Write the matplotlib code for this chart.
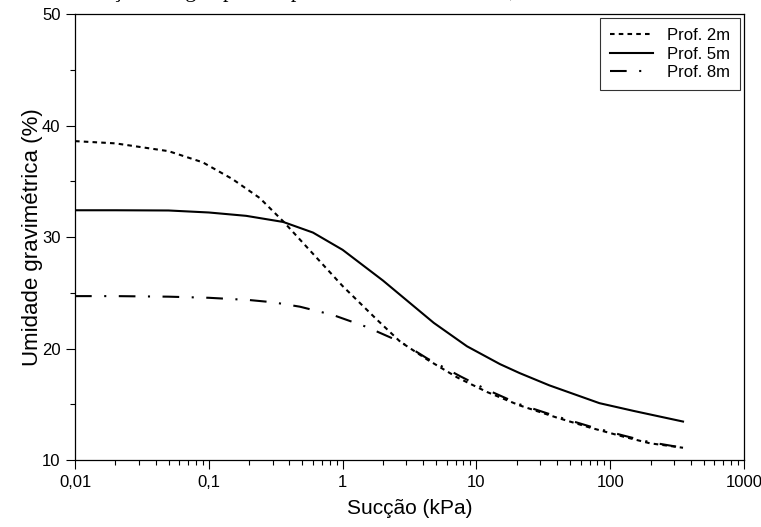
import matplotlib
matplotlib.use("Agg")
import matplotlib.pyplot as plt
import numpy as np
from matplotlib.ticker import FixedLocator, FixedFormatter, LogLocator, NullFormatter, MultipleLocator

plt.rcParams['font.family'] = ['Liberation Sans', 'DejaVu Sans']

# curvas (succao em kPa, umidade em %)
suc_2m = [0.01, 0.02, 0.05, 0.09, 0.15, 0.24, 0.36, 0.6, 1.0, 1.8, 2.7, 4.3, 7.2, 12, 21, 40, 71, 125, 198, 350]
umi_2m = [38.6, 38.4, 37.7, 36.7, 35.2, 33.5, 31.4, 28.5, 25.6, 22.6, 20.6, 19.0, 17.4, 16.1, 14.9, 13.8, 12.9, 12.1, 11.5, 11.1]

suc_5m = [0.01, 0.02, 0.05, 0.1, 0.19, 0.36, 0.6, 1.0, 2.0, 4.8, 8.5, 15, 21, 35, 83, 150, 350]
umi_5m = [32.4, 32.4, 32.38, 32.2, 31.9, 31.35, 30.4, 28.85, 26.1, 22.3, 20.2, 18.6, 17.8, 16.7, 15.1, 14.4, 13.45]

suc_8m = [0.01, 0.02, 0.05, 0.1, 0.2, 0.3, 0.48, 0.85, 1.5, 2.7, 4.3, 7.6, 12, 21, 40, 71, 125, 198, 350]
umi_8m = [24.7, 24.7, 24.65, 24.55, 24.35, 24.15, 23.75, 23.0, 21.95, 20.6, 19.1, 17.5, 16.3, 15.0, 13.9, 13.0, 12.2, 11.6, 11.1]

xticks = [0.01, 0.1, 1, 10, 100, 1000]
xlabels = ['0,01', '0,1', '1', '10', '100', '1000']

fig = plt.figure(figsize=(7.61, 5.27), dpi=100)
ax = fig.add_axes([0.0986, 0.1271, 0.8791, 0.8463])

ax.plot(suc_2m, umi_2m, color='black', lw=1.5, linestyle=(0, (2.2, 2.0)), label='Prof. 2m')
ax.plot(suc_5m, umi_5m, color='black', lw=1.5, linestyle='-', label='Prof. 5m')
ax.plot(suc_8m, umi_8m, color='black', lw=1.5, linestyle=(0, (8, 6, 1, 6)), label='Prof. 8m')

ax.set_xscale('log')
ax.set_xlim(0.01, 1000)
ax.set_ylim(10, 50)
ax.xaxis.set_major_locator(FixedLocator(xticks))
ax.xaxis.set_major_formatter(FixedFormatter(xlabels))
ax.xaxis.set_minor_locator(LogLocator(base=10, subs=np.arange(2, 10)))
ax.xaxis.set_minor_formatter(NullFormatter())
ax.yaxis.set_major_locator(MultipleLocator(10))
ax.yaxis.set_minor_locator(MultipleLocator(5))

ax.tick_params(which='major', direction='out', length=6.5, width=0.8, labelsize=12, pad=4)
ax.tick_params(which='minor', direction='out', length=3.6, width=0.8)
for s in ax.spines.values():
    s.set_linewidth(0.9)

ax.set_xlabel('Sucção (kPa)', fontsize=15, labelpad=7)
ax.set_ylabel('Umidade gravimétrica (%)', fontsize=16, labelpad=-1)

leg = ax.legend(loc='upper right', fontsize=12, frameon=True, fancybox=False,
                edgecolor='black', handlelength=2.6, handletextpad=0.8,
                borderpad=0.6, borderaxespad=0.25, labelspacing=0.2)
leg.get_frame().set_linewidth(0.8)

# resto da legenda da figura, cortada no topo da imagem
fig.text(-0.036, 1 + 3 / 527, 'Curvas de retenção da água para as profundidades estudadas,',
         family=['Liberation Serif', 'DejaVu Serif'], fontsize=16, va='baseline', ha='left')

fig.savefig('out.png', dpi=100)
